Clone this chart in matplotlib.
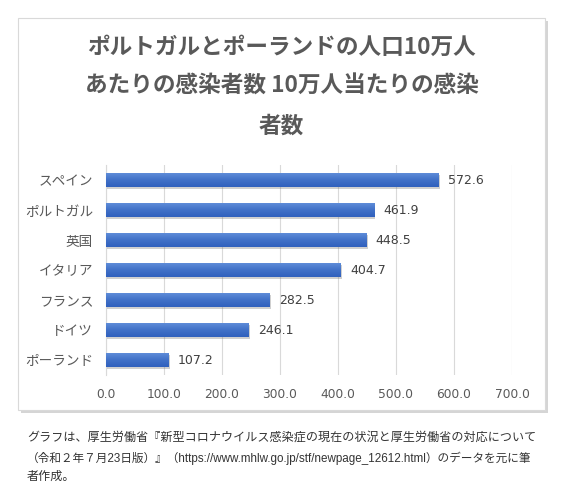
import matplotlib
matplotlib.use("Agg")
import matplotlib.pyplot as plt
import numpy as np
from matplotlib.patches import Rectangle
import matplotlib.patheffects as pe
from matplotlib.colors import LinearSegmentedColormap
from matplotlib import font_manager

plt.rcParams['font.family'] = ['Noto Sans CJK JP', 'DejaVu Sans']

countries = ["スペイン", "ポルトガル", "英国", "イタリア", "フランス", "ドイツ", "ポーランド"]
values = [572.6, 461.9, 448.5, 404.7, 282.5, 246.1, 107.2]
xticks = [0, 100, 200, 300, 400, 500, 600, 700]
title_lines = ["ポルトガルとポーランドの人口10万人",
               "あたりの感染者数 10万人当たりの感染",
               "者数"]
caption_lines = ["グラフは、厚生労働省『新型コロナウイルス感染症の現在の状況と厚生労働省の対応について",
                 "（令和２年７月23日版）』（https://www.mhlw.go.jp/stf/newpage_12612.html）のデータを元に筆",
                 "者作成。"]

W, H = 562, 500
fig = plt.figure(figsize=(W / 100, H / 100), dpi=100)
fig.patch.set_facecolor("white")

# chart box with shadow
box = Rectangle((18 / W, 1 - 410 / H), (545 - 18) / W, (410 - 18) / H,
                transform=fig.transFigure, facecolor="white", edgecolor="#d9d9d9",
                linewidth=0.8, zorder=-5)
box.set_path_effects([pe.SimplePatchShadow(offset=(2, -2), shadow_rgbFace="#888888", alpha=0.35),
                      pe.Normal()])
fig.patches.append(box)

ax = fig.add_axes([105.7 / W, 1 - 375 / H, (512 - 105.7) / W, (375 - 165) / H])
ax.set_zorder(2)
ax.set_facecolor("none")
y = np.arange(len(countries))
bars = ax.barh(y, values, height=0.47, color="#4472C4", zorder=3)
for b in bars:
    b.set_path_effects([pe.SimplePatchShadow(offset=(1.2, -1.5), shadow_rgbFace="#666666", alpha=0.3),
                        pe.Normal()])

# gradient fill clipped to each bar
grad = np.linspace(0, 1, 64).reshape(-1, 1)
cmap = LinearSegmentedColormap.from_list("g", ["#6390DB", "#4272C8", "#3060BD"])
for b in bars:
    x0, y0 = b.get_x(), b.get_y()
    im = ax.imshow(grad, extent=[x0, x0 + b.get_width(), y0 + b.get_height(), y0],
                   aspect="auto", cmap=cmap, zorder=4, interpolation="bilinear")
    im.set_clip_path(b)

for v, yy in zip(values, y):
    ax.annotate(f"{v:.1f}", (v, yy), xytext=(7, 0), textcoords="offset points",
                va="center", ha="left", fontsize=9, color="#404040",
                family=['DejaVu Sans'])

ax.set_xlim(0, 700)
ax.set_ylim(len(countries) - 0.5, -0.5)
ax.set_xticks(xticks)
ax.set_xticklabels([f"{t:.1f}" for t in xticks], fontsize=8.8, color="#595959",
                   family=['DejaVu Sans'])
ax.set_yticks(y)
ax.set_yticklabels(countries, fontsize=9.8, color="#595959")
ax.tick_params(axis="both", length=0)
ax.tick_params(axis="x", pad=9)
ax.tick_params(axis="y", pad=9)
ax.grid(axis="x", color="#d9d9d9", linewidth=0.8, zorder=0)
ax.set_axisbelow(True)
for s in ["top", "right", "bottom"]:
    ax.spines[s].set_visible(False)
ax.spines["left"].set_color("#d9d9d9")
ax.spines["left"].set_linewidth(0.8)

for line, yc in zip(title_lines, [47, 86, 126]):
    fig.text(281.5 / W, 1 - yc / H, line, ha="center", va="center",
             fontsize=16.3, fontweight="bold", color="#595959")

available = {f.name for f in font_manager.fontManager.ttflist}
cap_fams = [f for f in ['Liberation Sans Narrow', 'DejaVu Sans Condensed', 'Liberation Sans',
                        'Noto Sans CJK JP', 'DejaVu Sans'] if f in available]

renderer = fig.canvas.get_renderer()
for line, yc in zip(caption_lines, [438, 458, 477]):
    t = fig.text(27 / W, 1 - yc / H, line, ha="left", va="center",
                 fontsize=8.7, color="#333333", family=cap_fams)
    bb = t.get_window_extent(renderer)
    if bb.x1 > 537:
        t.set_fontsize(8.7 * (537 - 27) / bb.width)

fig.savefig("out.png", dpi=100)
